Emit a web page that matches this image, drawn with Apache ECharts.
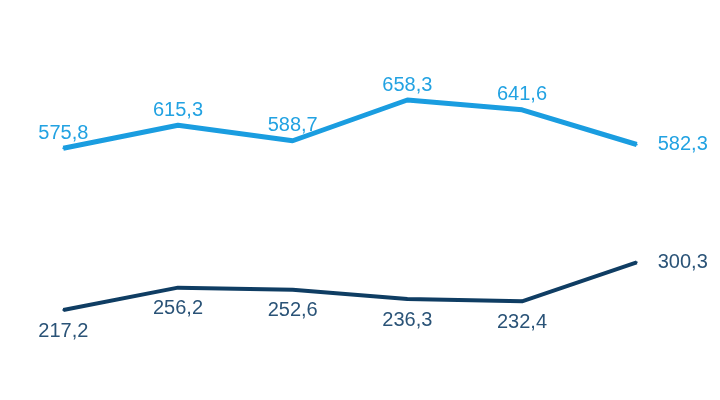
<!DOCTYPE html>
<html>
<head>
<meta charset="utf-8">
<script src="https://cdn.jsdelivr.net/npm/echarts@6/dist/echarts.min.js"></script>
<style>
html,body{margin:0;padding:0;background:#fff;}
#chart{width:720px;height:400px;}
</style>
</head>
<body>
<div id="chart"></div>
<script>
var categories = ['1', '2', '3', '4', '5', '6'];
var upperValues = [575.8, 615.3, 588.7, 658.3, 641.6, 582.3];
var lowerValues = [217.2, 256.2, 252.6, 236.3, 232.4, 300.3];

function fmt(v) { return v.toFixed(1).replace('.', ','); }

function buildData(values, normalPos, normalDist) {
  return values.map(function (v, i) {
    var last = i === values.length - 1;
    return {
      value: v,
      label: last ? { position: 'right', distance: 20 } : { position: normalPos, distance: normalDist }
    };
  });
}

var chart = echarts.init(document.getElementById('chart'));
chart.setOption({
  animation: false,
  backgroundColor: '#ffffff',
  grid: { left: 63.3, right: 83.3, top: 40, height: 300 },
  xAxis: { type: 'category', data: categories, boundaryGap: false, show: false },
  yAxis: [
    { type: 'value', min: 248.4, max: 760.8, show: false, splitLine: { show: false } },
    { type: 'value', min: 165.0, max: 687.6, show: false, splitLine: { show: false } }
  ],
  series: [
    {
      type: 'line',
      yAxisIndex: 0,
      data: buildData(upperValues, 'top', 4),
      symbol: 'circle',
      symbolSize: 2,
      itemStyle: { color: '#1a9de0' },
      lineStyle: { color: '#1a9de0', width: 5 },
      label: {
        show: true,
        color: '#22a2e2',
        fontFamily: 'Liberation Sans',
        fontSize: 20,
        formatter: function (p) { return fmt(p.value); }
      }
    },
    {
      type: 'line',
      yAxisIndex: 1,
      data: buildData(lowerValues, 'bottom', 10),
      symbol: 'circle',
      symbolSize: 2,
      itemStyle: { color: '#0f3d63' },
      lineStyle: { color: '#0f3d63', width: 4 },
      label: {
        show: true,
        color: '#2a5377',
        fontFamily: 'Liberation Sans',
        fontSize: 20,
        formatter: function (p) { return fmt(p.value); }
      }
    }
  ]
});
</script>
</body>
</html>
